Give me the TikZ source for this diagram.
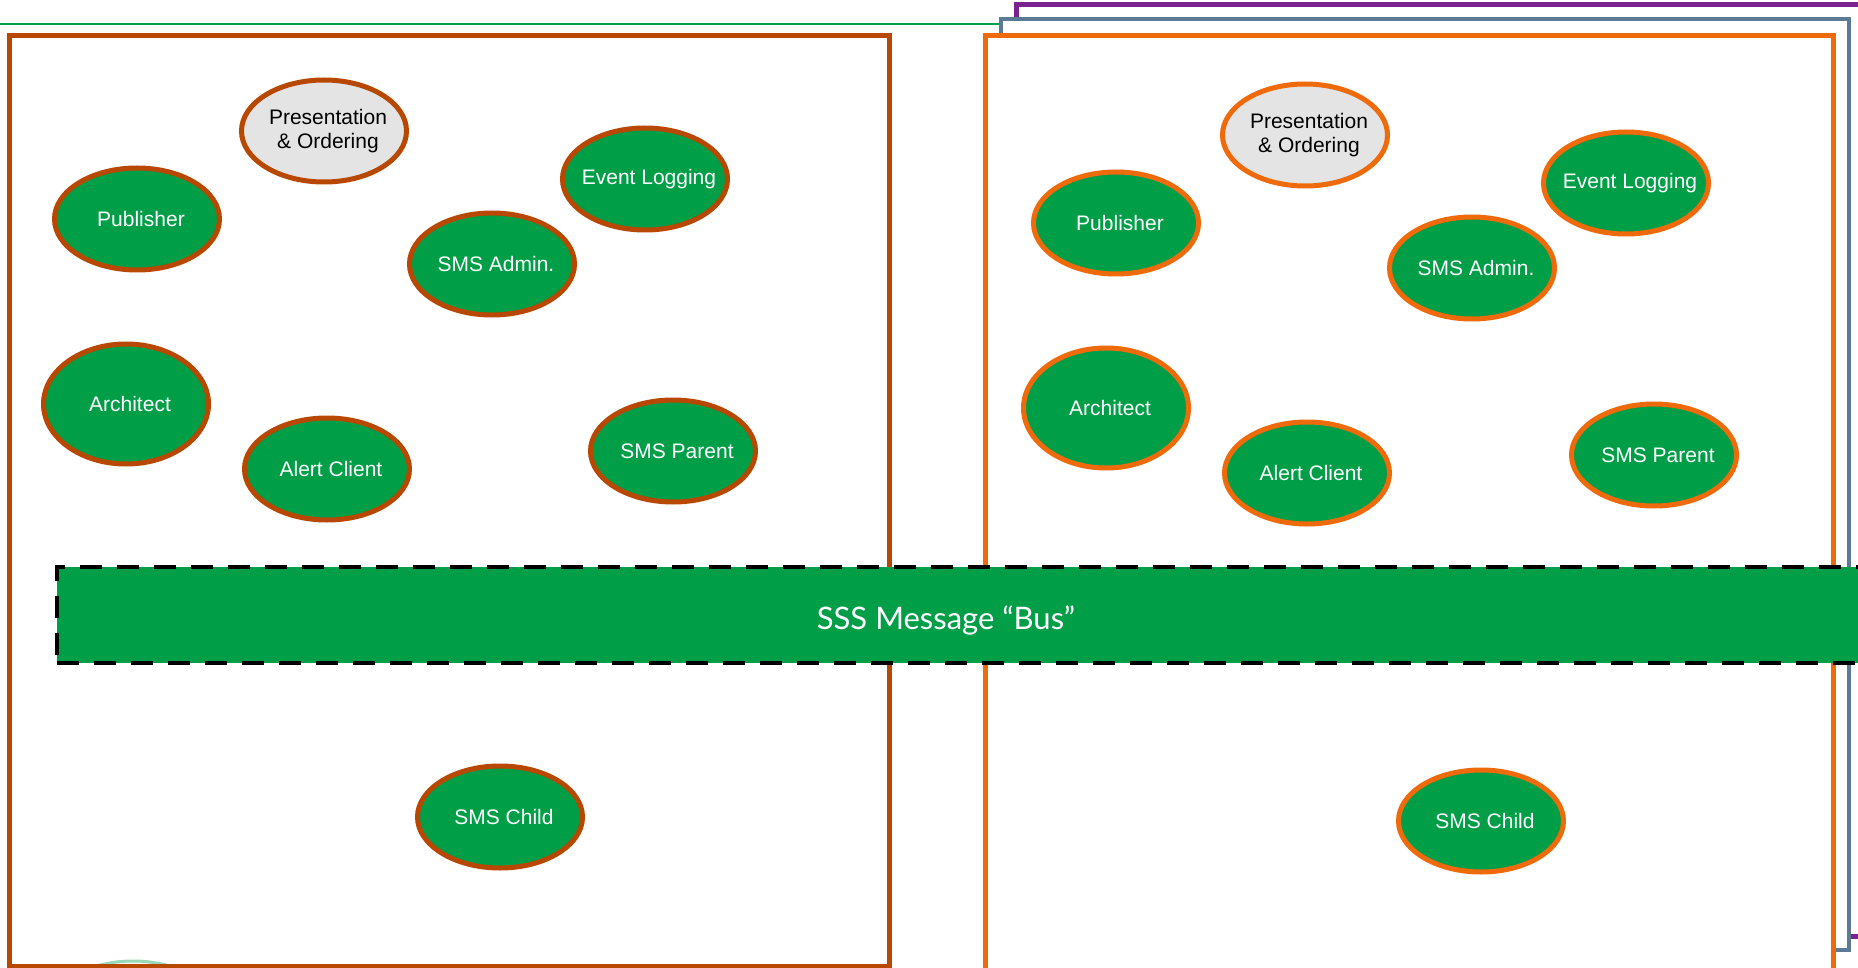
\documentclass[tikz,border=0pt]{standalone}
\usepackage{fontspec}
\setmainfont{Liberation Sans}
\newfontfamily\busfont{Lato}
\usetikzlibrary{shapes.geometric}
\definecolor{sgreen}{HTML}{009E47}
\definecolor{lborder}{HTML}{B84700}
\definecolor{rborder}{HTML}{EE6A0A}
\definecolor{pgray}{HTML}{E4E4E4}
\definecolor{bluegray}{HTML}{5B7A96}
\definecolor{purp}{HTML}{7A2290}
\definecolor{lgreen}{HTML}{00A04A}
\tikzset{
  svc/.style={ellipse, draw, line width=5pt, fill=sgreen, text=white,
    minimum width=165pt, minimum height=102pt, inner ysep=0pt, inner xsep=-30pt,
    font=\fontsize{21}{24}\selectfont, align=center,
    execute at begin node=\hspace*{8pt}},
  tall/.style={minimum height=120pt},
  pres/.style={fill=pgray, text=black},
  lsvc/.style={svc, draw=lborder},
  rsvc/.style={svc, draw=rborder},
  panel/.style={draw, fill=white, line width=5pt},
  bus/.style={draw=black, fill=sgreen, line width=4.5pt, dash pattern=on 22pt off 15pt,
    minimum width=1843pt, minimum height=96pt, inner sep=0pt},
  bustext/.style={text=white, font=\busfont\fontsize{31}{36}\selectfont},
}
\begin{document}
\begin{tikzpicture}[x=1pt,y=-1pt]
\useasboundingbox (0,0) rectangle (1858,968);
\clip (0,0) rectangle (1858,968);
% background panels
\coordinate (gl) at (0,24);
\coordinate (gr) at (1001,24);
\draw[lgreen, line width=2.5pt] (gl) -- (gr);
\draw[panel, draw=purp, line width=5pt] (1016,5) rectangle (1900,936);
\draw[panel, draw=bluegray, line width=4.5pt] (1001,19) rectangle (1849,950);
\draw[panel, draw=rborder] (985,36) rectangle (1833,1010);
\draw[panel, draw=lborder] (9,36) rectangle (889,966);
% faint ghost ellipse at bottom left
\draw[sgreen!40, line width=3pt, fill=gray!6] (133,1013) ellipse [x radius=85pt, y radius=52pt];
\draw[lborder, line width=5pt] (9,966) -- (889,966);
% left panel
\node[lsvc, pres] (lpres) at (324,131) {Presentation\\\& Ordering};
\node[lsvc] (lpub) at (137,219) {Publisher};
\node[lsvc] (llog) at (645,179) {Event Logging};
\node[lsvc] (ladm) at (492,264) {SMS Admin.};
\node[lsvc, tall] (larch) at (126,404) {Architect};
\node[lsvc] (lalert) at (327,469) {Alert Client};
\node[lsvc] (lpar) at (673,451) {SMS Parent};
\node[lsvc] (lchild) at (500,817) {SMS Child};
% right panel
\node[rsvc, pres] (rpres) at (1305,135) {Presentation\\\& Ordering};
\node[rsvc] (rpub) at (1116,223) {Publisher};
\node[rsvc] (rlog) at (1626,183) {Event Logging};
\node[rsvc] (radm) at (1472,268) {SMS Admin.};
\node[rsvc, tall] (rarch) at (1106,408) {Architect};
\node[rsvc] (ralert) at (1307,473) {Alert Client};
\node[rsvc] (rpar) at (1654,455) {SMS Parent};
\node[rsvc] (rchild) at (1481,821) {SMS Child};
% message bus
\node[bus] (busbar) at (978.5,615) {};
\node[bustext] (bustitle) at (946,620) {SSS Message “Bus”};
\end{tikzpicture}
\end{document}
